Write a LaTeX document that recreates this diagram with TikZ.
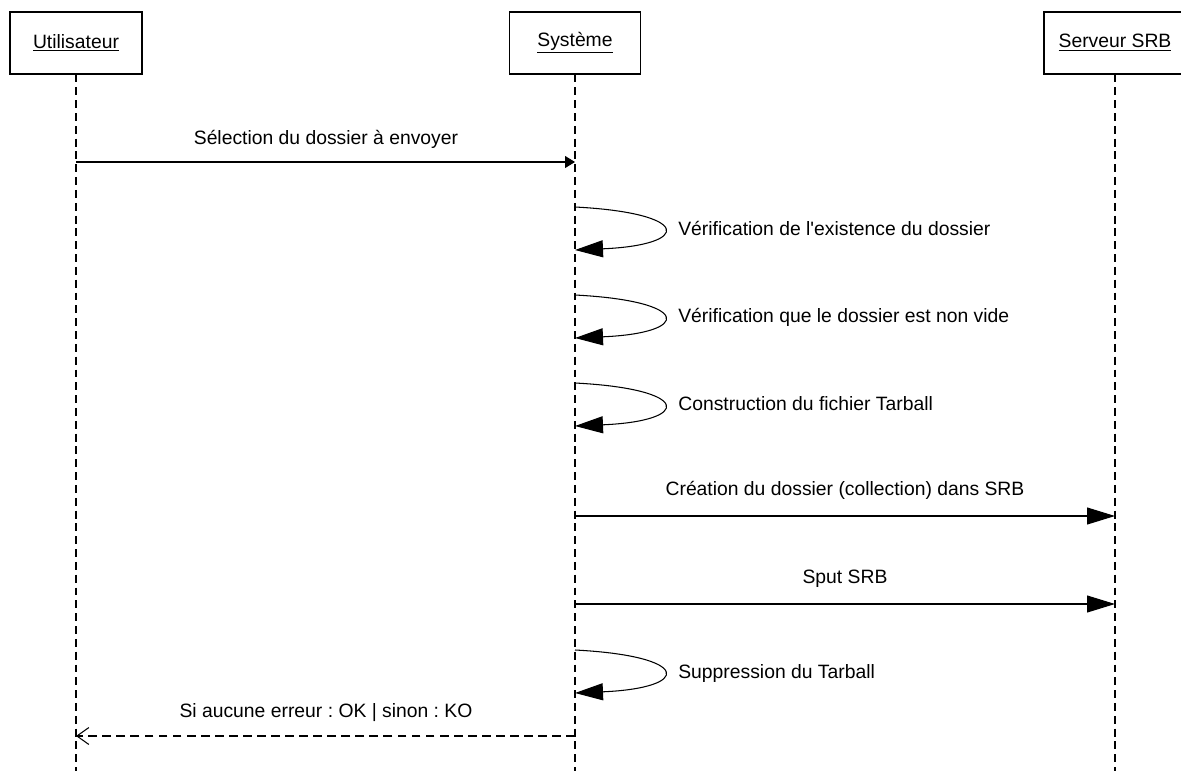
\documentclass[tikz,border=0pt]{standalone}
\usepackage{fontspec}
\setmainfont{Liberation Sans}
\usetikzlibrary{arrows.meta}
\frenchspacing

\tikzset{
  actor/.style={draw, line width=0.6pt, minimum height=1.24cm, inner sep=0pt,
    font=\fontsize{11}{13}\selectfont},
  lifeline/.style={line width=0.6pt, dash pattern=on 4.5pt off 2.8pt},
  msg/.style={line width=0.6pt, -{Triangle[length=0.56cm,width=0.34cm]}},
  call/.style={line width=0.6pt, -{Triangle[length=0.2cm,width=0.24cm]}},
  reply/.style={line width=0.6pt, dash pattern=on 5pt off 3pt,
    -{Straight Barb[length=0.24cm,width=0.34cm]}},
  lbl/.style={inner sep=0pt, font=\fontsize{11}{13}\selectfont}
}

\begin{document}
\begin{tikzpicture}[x=0.02cm, y=-0.02cm]
  \useasboundingbox (0,0) rectangle (1181,771);

  % objets
  \node[actor, minimum width=2.64cm] (usr) at (76,43) {\underline{Utilisateur}};
  \node[actor, minimum width=2.62cm] (sys) at (575,43) {\underline{Système}};
  \node[actor, minimum width=2.84cm] (srb) at (1115,43) {\underline{Serveur SRB}};

  % lignes de vie
  \draw[lifeline] (usr.south) -- (usr.south |- 0,771);
  \draw[lifeline] (sys.south) -- (sys.south |- 0,771);
  \draw[lifeline] (srb.south) -- (srb.south |- 0,771);

  % messages
  \draw[call] (usr |- 0,162) -- (sys |- 0,162);
  \node[lbl, anchor=base] (sel) at (326,144) {Sélection du dossier à envoyer};

  \draw[msg] (sys |- 0,207) .. controls (692,213) and (692,245) .. (sys |- 0,250);
  \node[lbl, anchor=base west] (chk1) at (678,235) {Vérification de l\textquotesingle existence du dossier};

  \draw[msg] (sys |- 0,295) .. controls (692,301) and (692,333) .. (sys |- 0,338);
  \node[lbl, anchor=base west] (chk2) at (678,322) {Vérification que le dossier est non vide};

  \draw[msg] (sys |- 0,383) .. controls (692,389) and (692,421) .. (sys |- 0,426);
  \node[lbl, anchor=base west] (tar) at (678,410) {Construction du fichier Tarball};

  \draw[msg] (sys |- 0,516) -- (srb |- 0,516);
  \node[lbl, anchor=base] (mkcol) at (845,495) {Création du dossier (collection) dans SRB};

  \draw[msg] (sys |- 0,604) -- (srb |- 0,604);
  \node[lbl, anchor=base] (sput) at (845,583) {Sput SRB};

  \draw[msg] (sys |- 0,650) .. controls (692,656) and (692,688) .. (sys |- 0,693);
  \node[lbl, anchor=base west] (rm) at (678,678) {Suppression du Tarball};

  \draw[reply] (sys |- 0,736) -- (usr |- 0,736);
  \node[lbl, anchor=base] (res) at (326,717) {Si aucune erreur : OK | sinon : KO};
\end{tikzpicture}
\end{document}
